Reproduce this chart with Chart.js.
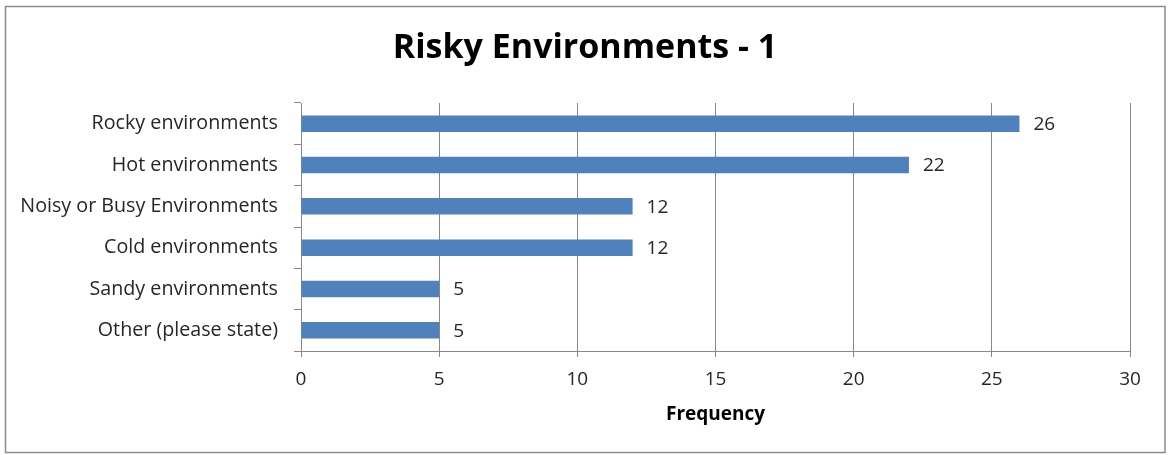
<!DOCTYPE html>
<html>
<head>
<meta charset="utf-8">
<script src="https://cdn.jsdelivr.net/npm/chart.js@4/dist/chart.umd.min.js"></script>
<style>
  html, body { margin: 0; padding: 0; background: #ffffff; }
  #wrap { width: 1168px; height: 455px; position: relative; }
</style>
</head>
<body>
<div id="wrap"><canvas id="chart" width="1168" height="455"></canvas></div>
<script>
// Survey answers: how many respondents picked each environment
const categories = [
  'Rocky environments',
  'Hot environments',
  'Noisy or Busy Environments',
  'Cold environments',
  'Sandy environments',
  'Other (please state)'
];
const frequency = [26, 22, 12, 12, 5, 5];
const xTicks = [0, 5, 10, 15, 20, 25, 30];
const chartTitle = 'Risky Environments - 1';

const FONT = '"Open Sans", Lato, sans-serif';
const GRID = '#888888';
const BAR = '#4f81bd';

// Frame around the whole chart and the heading centred on the canvas
const framePlugin = {
  id: 'frame',
  beforeDraw(chart) {
    const ctx = chart.ctx;
    ctx.save();
    ctx.fillStyle = '#ffffff';
    ctx.fillRect(0, 0, chart.width, chart.height);
    ctx.strokeStyle = '#8c8c8c';
    ctx.lineWidth = 1.5;
    ctx.strokeRect(5.5, 6.5, 1159.5, 446);
    ctx.font = 'bold 34px ' + FONT;
    ctx.fillStyle = '#000000';
    ctx.textAlign = 'center';
    ctx.textBaseline = 'middle';
    ctx.fillText(chartTitle, chart.width / 2 + 1, 48);
    ctx.restore();
  }
};

// Value written just past the end of each bar
const valueLabels = {
  id: 'valueLabels',
  afterDatasetsDraw(chart) {
    const ctx = chart.ctx;
    const meta = chart.getDatasetMeta(0);
    ctx.save();
    ctx.font = '19px ' + FONT;
    ctx.fillStyle = '#262626';
    ctx.textAlign = 'left';
    ctx.textBaseline = 'middle';
    meta.data.forEach((bar, i) => {
      ctx.fillText(String(frequency[i]), bar.x + 14, bar.y + 1);
    });
    ctx.restore();
  }
};

new Chart(document.getElementById('chart'), {
  type: 'bar',
  data: {
    labels: categories,
    datasets: [{
      data: frequency,
      backgroundColor: BAR,
      borderWidth: 0,
      barPercentage: 0.4,
      categoryPercentage: 1.0
    }]
  },
  plugins: [framePlugin, valueLabels],
  options: {
    indexAxis: 'y',
    responsive: false,
    animation: false,
    layout: { padding: { left: 0, right: 38, top: 103, bottom: 0 } },
    plugins: {
      legend: { display: false },
      tooltip: { enabled: false },
      title: { display: false }
    },
    scales: {
      x: {
        min: 0,
        max: 30,
        afterBuildTicks(scale) { scale.ticks = xTicks.map(v => ({ value: v })); },
        afterFit(scale) { scale.height = 104; },
        grid: {
          color: GRID,
          lineWidth: 1,
          drawTicks: true,
          tickLength: 6,
          tickColor: GRID
        },
        border: { color: GRID, width: 1 },
        ticks: {
          color: '#262626',
          font: { family: FONT, size: 19 },
          padding: 11
        },
        title: {
          display: true,
          text: 'Frequency',
          color: '#000000',
          font: { family: FONT, size: 19, weight: 'bold', lineHeight: 1.2 },
          padding: { top: 29, bottom: 29 }
        }
      },
      y: {
        afterFit(scale) { scale.width = 301; },
        grid: {
          offset: true,
          drawOnChartArea: false,
          drawTicks: true,
          tickLength: 7,
          tickColor: GRID
        },
        border: { color: GRID, width: 1 },
        ticks: {
          color: '#262626',
          font: { family: FONT, size: 19.7 },
          padding: 16
        }
      }
    }
  }
});
</script>
</body>
</html>
